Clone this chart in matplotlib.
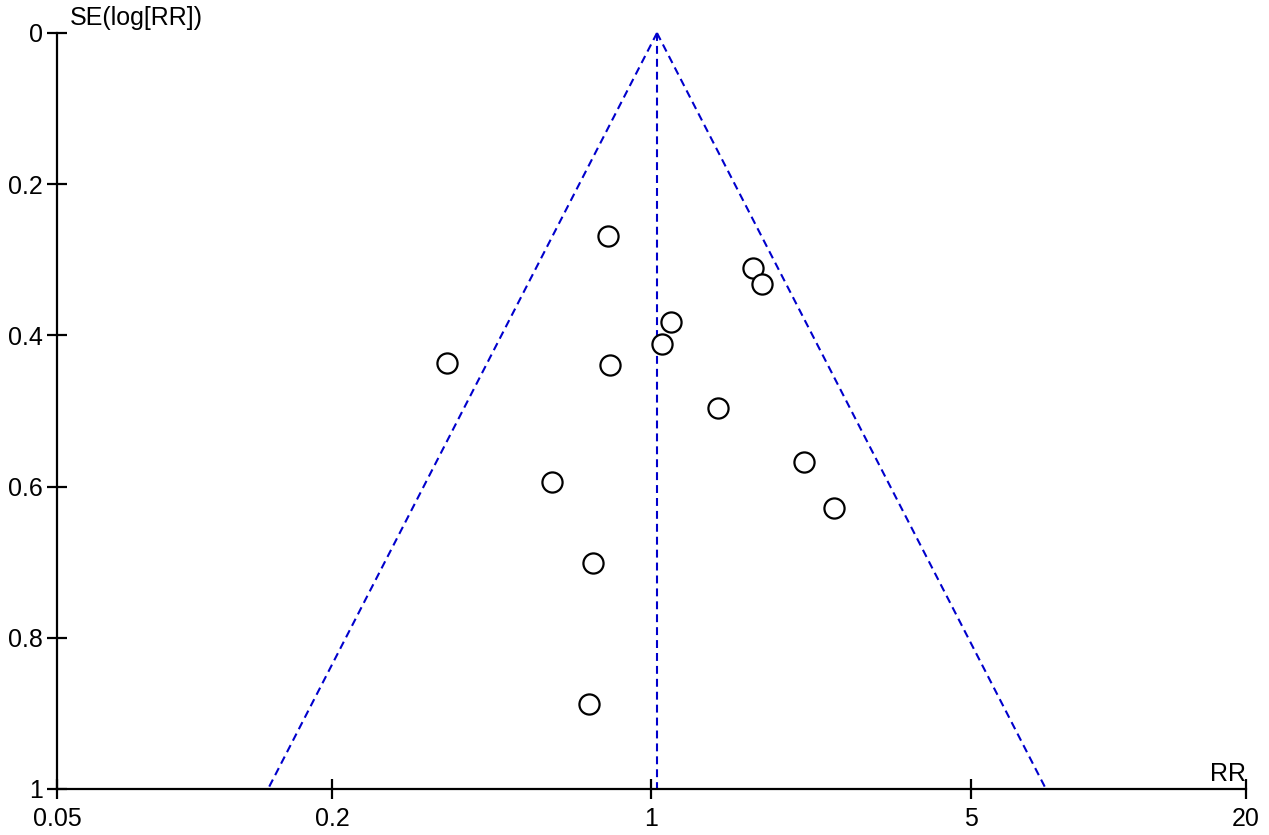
import numpy as np
import matplotlib.pyplot as plt

plt.rcParams['font.family'] = ['Liberation Sans', 'DejaVu Sans']

# study estimates
rr = [0.803, 1.667, 1.745, 1.103, 1.054, 0.357, 0.811, 1.398, 2.157, 2.507, 0.606, 0.745, 0.730]
se = [0.2685, 0.311, 0.332, 0.382, 0.411, 0.4365, 0.439, 0.496, 0.5675, 0.628, 0.594, 0.701, 0.8876]
pooled_rr = 1.028
se_range = [0.0, 1.0]

x_ticks = [0.05, 0.2, 1, 5, 20]
x_ticklabels = ['0.05', '0.2', '1', '5', '20']
y_ticks = [0, 0.2, 0.4, 0.6, 0.8, 1]
y_ticklabels = ['0', '0.2', '0.4', '0.6', '0.8', '1']

fig = plt.figure(figsize=(12.69, 8.35), dpi=100)
ax = fig.add_axes([57 / 1269, 46 / 835, 1189 / 1269, 756 / 835])

# funnel: 95% limits around the pooled estimate
se_arr = np.array(se_range)
lo = np.exp(np.log(pooled_rr) - 1.96 * se_arr)
hi = np.exp(np.log(pooled_rr) + 1.96 * se_arr)
dash = dict(color='#0000cc', linewidth=1.5, linestyle=(0, (3.8, 2.4)), clip_on=False)
ax.plot(lo, se_arr, **dash)
ax.plot(hi, se_arr, **dash)
ax.plot([pooled_rr, pooled_rr], se_arr, **dash)

ax.plot(rr, se, 'o', markersize=14.5, markerfacecolor='white',
        markeredgecolor='black', markeredgewidth=1.6, linestyle='none', zorder=3)

ax.set_xscale('log')
ax.set_xlim(0.05, 20)
ax.set_ylim(1, 0)
ax.set_xticks(x_ticks)
ax.set_xticklabels(x_ticklabels)
ax.xaxis.set_minor_locator(plt.NullLocator())
ax.set_yticks(y_ticks)
ax.set_yticklabels(y_ticklabels)

for s in ['top', 'right']:
    ax.spines[s].set_visible(False)
for s in ['left', 'bottom']:
    ax.spines[s].set_linewidth(1.6)
ax.tick_params(direction='inout', length=14, width=1.6, labelsize=18, pad=3)
ax.tick_params(axis='x', pad=6)

fig.text(70 / 1269, 1 - 6 / 835, 'SE(log[RR])', fontsize=18, ha='left', va='top')
ax.text(1.0, 0.004, 'RR', transform=ax.transAxes, fontsize=18, ha='right', va='bottom')

fig.savefig('out.png', dpi=100)
